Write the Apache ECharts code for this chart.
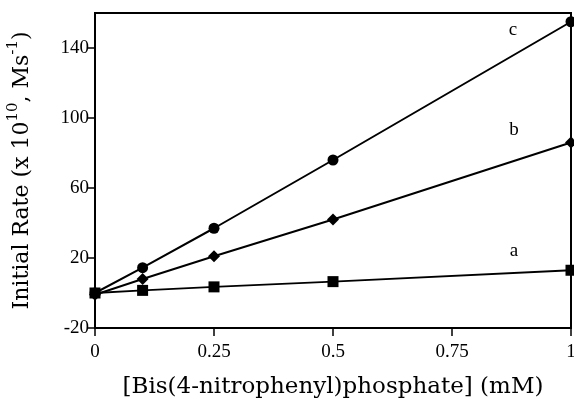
<!DOCTYPE html>
<html>
<head>
<meta charset="utf-8">
<script src="https://cdn.jsdelivr.net/npm/echarts@6/dist/echarts.min.js"></script>
<style>
  html, body { margin: 0; padding: 0; background: #fff; }
  #chart { width: 574px; height: 412px; }
</style>
</head>
<body>
<div id="chart"></div>
<script>
// concentration (mM)
const conc = [0, 0.1, 0.25, 0.5, 1]
// initial rates (x 10^10 M/s)
const rateA = [0, 1.5, 3.5, 6.5, 13]
const rateB = [-1, 8, 21, 42, 86]
const rateC = [0, 14.5, 37, 76, 155]
const yTicks = [-20, 20, 60, 100, 140]
const xTicks = [0, 0.25, 0.5, 0.75, 1]
// curve tags: [x, y, text]
const tags = [[0.88, 24, 'a'], [0.88, 93, 'b'], [0.878, 150, 'c']]

const font = 'Liberation Serif'
const nameFont = 'DejaVu Serif'

function pairs(ys) {
  return conc.map((x, i) => [x, ys[i]])
}

function makeSeries(ys, symbol, size, tag) {
  return {
    type: 'line',
    data: pairs(ys),
    symbol: symbol,
    symbolSize: size,
    showAllSymbol: true,
    clip: false,
    lineStyle: { color: '#000', width: 2 },
    itemStyle: { color: '#000' },
    markPoint: {
      symbol: 'circle',
      symbolSize: 0,
      label: {
        show: true,
        formatter: tag[2],
        color: '#000',
        fontFamily: font,
        fontSize: 19
      },
      data: [{ coord: [tag[0], tag[1]] }]
    }
  }
}

const chart = echarts.init(document.getElementById('chart'))
chart.setOption({
  animation: false,
  grid: {
    left: 95,
    right: 3,
    top: 13,
    bottom: 84,
    outerBoundsMode: 'none',
    containLabel: false,
    show: true,
    borderColor: '#000',
    borderWidth: 2
  },
  xAxis: {
    type: 'value',
    min: 0,
    max: 1,
    splitLine: { show: false },
    axisLine: { onZero: false, lineStyle: { color: '#000', width: 2 } },
    axisTick: { customValues: xTicks, length: 8, lineStyle: { color: '#000', width: 1.5 } },
    axisLabel: {
      customValues: xTicks,
      color: '#000',
      fontFamily: font,
      fontSize: 19,
      margin: 15
    },
    name: '[Bis(4-nitrophenyl)phosphate] (mM)',
    nameLocation: 'middle',
    nameGap: 48,
    nameTextStyle: { color: '#000', fontFamily: nameFont, fontSize: 23 }
  },
  yAxis: {
    type: 'value',
    min: -20,
    max: 160,
    splitLine: { show: false },
    axisLine: { onZero: false, lineStyle: { color: '#000', width: 2 } },
    axisTick: { customValues: yTicks, length: 7, lineStyle: { color: '#000', width: 1.5 } },
    axisLabel: {
      customValues: yTicks,
      color: '#000',
      fontFamily: font,
      fontSize: 19,
      margin: 6
    },
    name: '{n|Initial Rate (x 10}{s|10}{n|, Ms}{s|-1}{n|)}',
    nameLocation: 'middle',
    nameGap: 62,
    nameTextStyle: {
      rich: {
        n: { color: '#000', fontFamily: nameFont, fontSize: 22, verticalAlign: 'bottom', lineHeight: 27 },
        s: { color: '#000', fontFamily: nameFont, fontSize: 15, verticalAlign: 'top', lineHeight: 15, padding: [0, 0, 10, 0] }
      }
    }
  },
  series: [
    makeSeries(rateA, 'rect', 11, tags[0]),
    makeSeries(rateB, 'diamond', 12, tags[1]),
    makeSeries(rateC, 'circle', 11, tags[2])
  ]
})
</script>
</body>
</html>
